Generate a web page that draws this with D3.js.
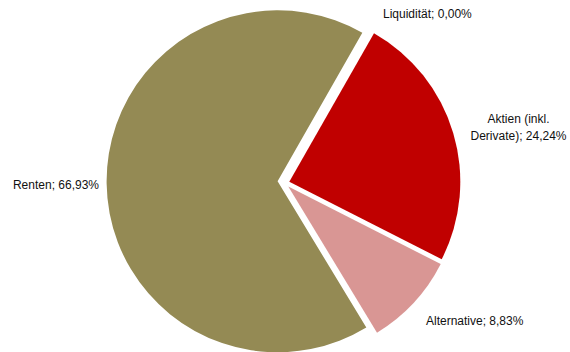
<!DOCTYPE html>
<html>
<head>
<meta charset="utf-8">
<script src="https://cdn.jsdelivr.net/npm/d3@7"></script>
<style>
  html, body { margin: 0; padding: 0; background: #fff; }
  svg { display: block; }
  text { font-family: "Liberation Sans", Arial, sans-serif; font-size: 12px; fill: #111; }
</style>
</head>
<body>
<svg id="chart" width="570" height="352"></svg>
<script>
// Asset allocation (share of portfolio, %)
const categories = ["Liquidität", "Aktien (inkl. Derivate)", "Alternative", "Renten"];
const values = [0.00, 24.24, 8.83, 66.93];
const labelLines = [
  ["Liquidität; 0,00%"],
  ["Aktien (inkl.", "Derivate); 24,24%"],
  ["Alternative; 8,83%"],
  ["Renten; 66,93%"]
];
const colors = ["#7f7f7f", "#c00000", "#d99694", "#948a54"];

// Layout
const W = 570, H = 352;
const center = [277.6, 181.3];
const radius = 171;
const firstSliceAngle = 29.7; // degrees clockwise from 12 o'clock
// per-slice explosion offsets (px)
const explode = [[0, 0], [11.7, 0.4], [10.7, 5.2], [0, 0]];
// label boxes: [x, baseline of first line, anchor]
const labelPos = [
  [383, 17.5, "start"],
  [518.5, 123, "middle"],
  [426, 325, "start"],
  [99, 188.5, "end"]
];
const lineHeight = 17.3;

const svg = d3.select("#chart");

const a0 = firstSliceAngle * Math.PI / 180;
const pie = d3.pie().sort(null).value(d => d)
  .startAngle(a0).endAngle(a0 + 2 * Math.PI);
const arcs = pie(values);
const arc = d3.arc().innerRadius(0).outerRadius(radius);

const g = svg.append("g").attr("transform", `translate(${center[0]},${center[1]})`);

g.selectAll("path.slice")
  .data(arcs)
  .join("path")
  .attr("class", "slice")
  .attr("transform", (d, i) => `translate(${explode[i][0]},${explode[i][1]})`)
  .attr("d", d => d.endAngle > d.startAngle ? arc(d) : null)
  .attr("fill", (d, i) => colors[i]);

const labels = svg.selectAll("text.label")
  .data(arcs)
  .join("text")
  .attr("class", "label")
  .attr("x", (d, i) => labelPos[i][0])
  .attr("y", (d, i) => labelPos[i][1])
  .attr("text-anchor", (d, i) => labelPos[i][2]);

labels.each(function (d, i) {
  d3.select(this).selectAll("tspan")
    .data(labelLines[i])
    .join("tspan")
    .attr("x", labelPos[i][0])
    .attr("dy", (t, j) => j === 0 ? 0 : lineHeight)
    .text(t => t);
});
</script>
</body>
</html>
